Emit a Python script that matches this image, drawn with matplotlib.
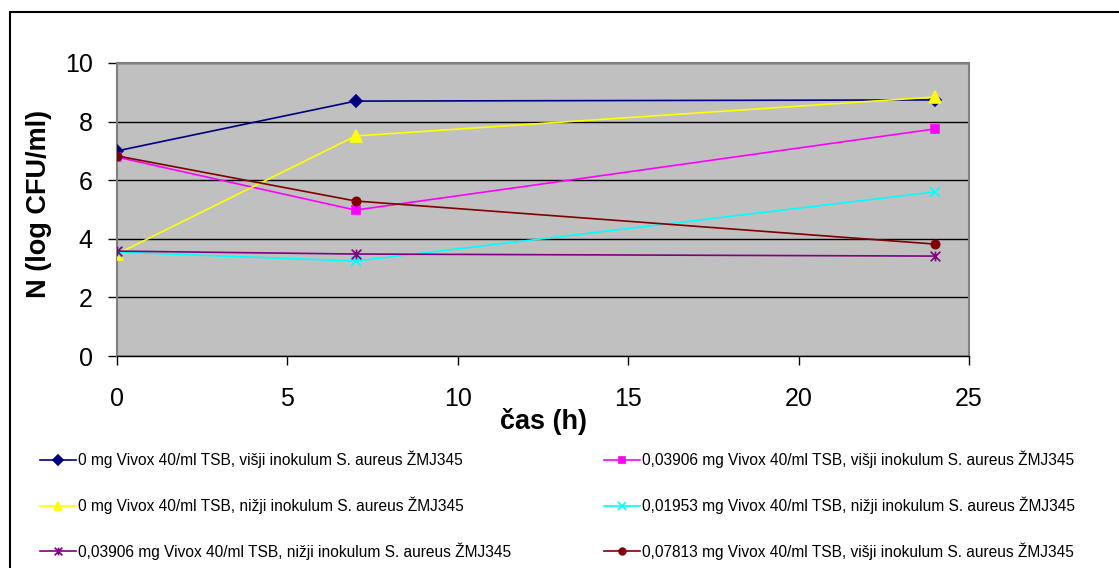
import matplotlib
matplotlib.use("Agg")
import matplotlib.pyplot as plt
from matplotlib.path import Path
from matplotlib.patches import Rectangle

plt.rcParams['font.family'] = ['Liberation Sans', 'DejaVu Sans']

# časi vzorčenja (h)
cas = [0, 7, 24]

# log CFU/ml za posamezne serije
visji_0 = [7.0, 8.70, 8.74]
visji_03906 = [6.79, 4.98, 7.75]
nizji_0 = [3.48, 7.51, 8.84]
nizji_01953 = [3.55, 3.24, 5.60]
nizji_03906 = [3.58, 3.48, 3.41]
visji_07813 = [6.83, 5.29, 3.82]

oznake = [
    "0 mg Vivox 40/ml TSB, višji inokulum S. aureus ŽMJ345",
    "0,03906 mg Vivox 40/ml TSB, višji inokulum S. aureus ŽMJ345",
    "0 mg Vivox 40/ml TSB, nižji inokulum S. aureus ŽMJ345",
    "0,01953 mg Vivox 40/ml TSB, nižji inokulum S. aureus ŽMJ345",
    "0,03906 mg Vivox 40/ml TSB, nižji inokulum S. aureus ŽMJ345",
    "0,07813 mg Vivox 40/ml TSB, višji inokulum S. aureus ŽMJ345",
]

# zvezdica kot v Excelu: X z navpično črto
zvezda = Path([(-1, -1), (1, 1), (-1, 1), (1, -1), (0, -1), (0, 1)],
              [Path.MOVETO, Path.LINETO, Path.MOVETO, Path.LINETO,
               Path.MOVETO, Path.LINETO])

serije = [
    (visji_0, "#000080", "D", 6),
    (visji_03906, "#FF00FF", "s", 6),
    (nizji_0, "#FFFF00", "^", 8),
    (nizji_01953, "#00FFFF", "x", 7),
    (nizji_03906, "#800080", zvezda, 7),
    (visji_07813, "#800000", "o", 6),
]

fig = plt.figure(figsize=(11.19, 5.68), dpi=100)
ax = fig.add_axes([117 / 1119, 1 - 356 / 568, 852 / 1119, 293 / 568])
ax.set_facecolor("#C0C0C0")

crte = []
for (vrednosti, barva, marker, ms), oznaka in zip(serije, oznake):
    ln, = ax.plot(cas, vrednosti, color=barva, marker=marker, markersize=ms,
                  markeredgewidth=1.2, linewidth=1.2, label=oznaka, zorder=3)
    crte.append(ln)

ax.set_xlim(0, 25)
ax.set_ylim(0, 10)
ax.set_xticks(range(0, 26, 5))
ax.set_yticks(range(0, 11, 2))
ax.yaxis.grid(True, color="black", linewidth=1)
ax.set_axisbelow(True)
ax.tick_params(axis="both", labelsize=18, direction="out", length=6.5,
               color="black", width=1)
ax.tick_params(axis="x", pad=16)
ax.tick_params(axis="y", pad=11)
for s in ax.spines.values():
    s.set_color("#808080")
    s.set_linewidth(1.5)
ax.spines["bottom"].set_color("black")
ax.spines["bottom"].set_linewidth(1)

ax.set_xlabel("čas (h)", fontsize=19.5, fontweight="bold", labelpad=-2)
ax.set_ylabel("N (log CFU/ml)", fontsize=19.5, fontweight="bold")
ax.yaxis.set_label_coords(-0.076, 0.52)

# legenda v dveh stolpcih
leg_opts = dict(frameon=False, fontsize=11.2, handlelength=2.3,
                handletextpad=0.15, labelspacing=1.8, markerscale=0.8,
                borderaxespad=0, borderpad=0)
leva = fig.legend([crte[0], crte[2], crte[4]],
                  [oznake[0], oznake[2], oznake[4]],
                  loc="upper left", bbox_to_anchor=(40 / 1119, 1 - 451 / 568),
                  **leg_opts)
desna = fig.legend([crte[1], crte[3], crte[5]],
                   [oznake[1], oznake[3], oznake[5]],
                   loc="upper left", bbox_to_anchor=(604 / 1119, 1 - 451 / 568),
                   **leg_opts)

# okvir grafikona
fig.patches.append(Rectangle((10 / 1119, -0.1), 1.2, 1 - 12 / 568 + 0.1,
                             transform=fig.transFigure, fill=False,
                             edgecolor="black", linewidth=1.5))

fig.savefig("out.png", dpi=100)
